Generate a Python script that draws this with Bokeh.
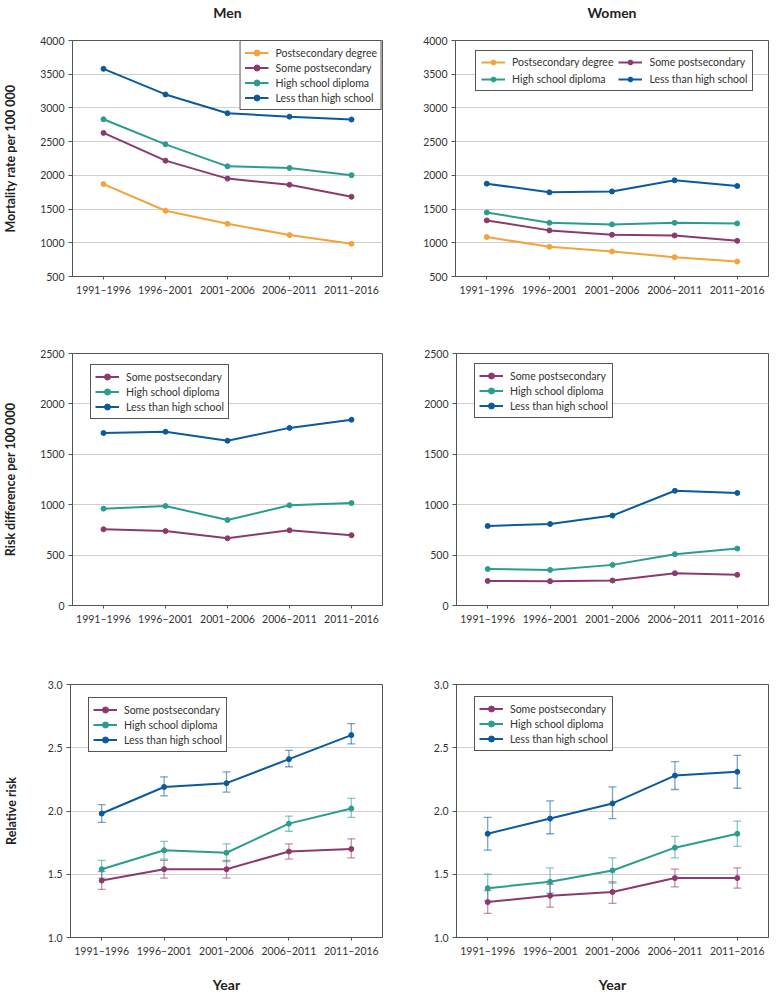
from bokeh.plotting import figure
from bokeh.models import (FactorRange, Range1d, FixedTicker, Whisker, ColumnDataSource,
                          Legend, LegendItem, TeeHead, NumeralTickFormatter, CategoricalAxis)
from bokeh.layouts import column, row
from bokeh.embed import file_html
from bokeh.resources import INLINE

# ---------------- data ----------------
periods = ["1991–1996", "1996–2001", "2001–2006", "2006–2011", "2011–2016"]

# Mortality rate per 100 000
men_mort_degree = [1870, 1475, 1282, 1114, 985]
men_mort_some = [2630, 2218, 1952, 1861, 1683]
men_mort_hs = [2832, 2460, 2134, 2109, 2003]
men_mort_less = [3580, 3200, 2921, 2871, 2828]

women_mort_degree = [1085, 940, 871, 786, 722]
women_mort_some = [1332, 1184, 1119, 1109, 1029]
women_mort_hs = [1450, 1297, 1273, 1297, 1287]
women_mort_less = [1877, 1748, 1762, 1926, 1842]

# Risk difference per 100 000
men_rd_some = [756, 738, 667, 746, 697]
men_rd_hs = [961, 987, 848, 994, 1016]
men_rd_less = [1711, 1724, 1635, 1762, 1843]

women_rd_some = [244, 241, 248, 320, 304]
women_rd_hs = [362, 353, 403, 509, 565]
women_rd_less = [789, 809, 892, 1138, 1117]

# Relative risk with 95% CI
men_rr_some = [1.45, 1.54, 1.54, 1.68, 1.70]
men_rr_some_lo = [1.38, 1.47, 1.47, 1.62, 1.63]
men_rr_some_hi = [1.52, 1.61, 1.61, 1.74, 1.78]
men_rr_hs = [1.54, 1.69, 1.67, 1.90, 2.02]
men_rr_hs_lo = [1.47, 1.62, 1.60, 1.84, 1.95]
men_rr_hs_hi = [1.61, 1.76, 1.74, 1.96, 2.10]
men_rr_less = [1.98, 2.19, 2.22, 2.41, 2.60]
men_rr_less_lo = [1.91, 2.12, 2.15, 2.35, 2.53]
men_rr_less_hi = [2.05, 2.27, 2.31, 2.48, 2.69]

women_rr_some = [1.28, 1.33, 1.36, 1.47, 1.47]
women_rr_some_lo = [1.19, 1.24, 1.27, 1.40, 1.39]
women_rr_some_hi = [1.37, 1.42, 1.44, 1.54, 1.55]
women_rr_hs = [1.39, 1.44, 1.53, 1.71, 1.82]
women_rr_hs_lo = [1.29, 1.35, 1.43, 1.63, 1.72]
women_rr_hs_hi = [1.50, 1.55, 1.63, 1.80, 1.92]
women_rr_less = [1.82, 1.94, 2.06, 2.28, 2.31]
women_rr_less_lo = [1.69, 1.82, 1.94, 2.17, 2.18]
women_rr_less_hi = [1.95, 2.08, 2.19, 2.39, 2.44]

mort_ticks = [500, 1000, 1500, 2000, 2500, 3000, 3500, 4000]
rd_ticks = [0, 500, 1000, 1500, 2000, 2500]
rr_ticks = [1.0, 1.5, 2.0, 2.5, 3.0]

# ---------------- styles ----------------
COLORS = {
    "Postsecondary degree": "#F2A33C",
    "Some postsecondary": "#8C3A6E",
    "High school diploma": "#2A9D8F",
    "Less than high school": "#0B5A9E",
}
FONT = "Lato"
TXT = "#333333"
FRAME = "#555555"


def make_panel(width, height, yr, ticks, series, ylabel=None, title=None, xlabel=None,
               mb_left=70, mb_right=6, mb_top=33, mb_bottom=35, legend_cfg=None,
               rr=False, ylabel_standoff=19):
    p = figure(width=width, height=height, x_range=FactorRange(factors=periods),
               y_range=Range1d(yr[0], yr[1]), output_backend="svg", toolbar_location=None,
               min_border_left=mb_left, min_border_right=mb_right,
               min_border_top=mb_top, min_border_bottom=mb_bottom)
    p.outline_line_color = FRAME
    p.outline_line_width = 1
    p.outline_line_alpha = 1
    p.background_fill_color = "white"
    p.border_fill_color = "white"
    p.xgrid.visible = False
    p.ygrid.grid_line_color = "#cfcfcf"
    p.ygrid.grid_line_width = 1
    p.yaxis.ticker = FixedTicker(ticks=ticks)
    if rr:
        p.yaxis.formatter = NumeralTickFormatter(format="0.0")
    for ax in (p.xaxis[0], p.yaxis[0]):
        ax.axis_line_color = FRAME
        ax.major_tick_line_color = FRAME
        ax.major_tick_in = 0
        ax.minor_tick_line_color = None
        ax.major_label_text_font = FONT
        ax.major_label_text_font_size = "10.5px"
        ax.major_label_text_color = TXT
        ax.major_label_standoff = 4
    p.yaxis.major_tick_out = 4
    p.xaxis.major_tick_out = 3
    if ylabel:
        p.yaxis.axis_label = ylabel
        p.yaxis.axis_label_text_font = FONT
        p.yaxis.axis_label_text_font_style = "bold"
        p.yaxis.axis_label_text_font_size = "12.5px"
        p.yaxis.axis_label_text_color = "#222222"
        p.yaxis.axis_label_standoff = ylabel_standoff
    if xlabel:
        p.xaxis.axis_label = xlabel
        p.xaxis.axis_label_text_font = FONT
        p.xaxis.axis_label_text_font_style = "bold"
        p.xaxis.axis_label_text_font_size = "14px"
        p.xaxis.axis_label_text_color = "#222222"
        p.xaxis.axis_label_standoff = 16
    if title:
        # panel title drawn as the label of a tick-less axis above the frame
        tax = CategoricalAxis(axis_label=title, ticker=FixedTicker(ticks=[]),
                              axis_line_color=None, major_tick_line_color=None,
                              minor_tick_line_color=None, major_label_standoff=0,
                              major_tick_out=0, major_tick_in=0,
                              axis_label_text_font=FONT, axis_label_text_font_style="bold",
                              axis_label_text_font_size="14px", axis_label_text_color="#222222",
                              axis_label_standoff=20)
        p.add_layout(tax, "above")

    items = {}
    # whiskers first (under lines)
    for s in series:
        name = s[0]
        if len(s) > 2:
            src = ColumnDataSource(dict(x=periods, lo=s[2], hi=s[3]))
            c = COLORS[name]
            w = Whisker(base="x", lower="lo", upper="hi", source=src,
                        line_color=c, line_alpha=0.55, line_width=1.3,
                        upper_head=TeeHead(size=8, line_color=c, line_alpha=0.55, line_width=1.3),
                        lower_head=TeeHead(size=8, line_color=c, line_alpha=0.55, line_width=1.3))
            p.add_layout(w)
    for s in series:
        name, vals = s[0], s[1]
        c = COLORS[name]
        src = ColumnDataSource(dict(x=periods, y=vals))
        lr = p.line("x", "y", source=src, line_color=c, line_width=2)
        sr = p.scatter("x", "y", source=src, size=5, color=c, marker="circle")
        items[name] = LegendItem(label=name, renderers=[lr, sr])

    cfg = legend_cfg or {}
    order = cfg.get("order", [s[0] for s in series])
    leg = Legend(items=[items[n] for n in order], location=cfg.get("location", "top_left"))
    leg.margin = 0
    leg.border_line_color = FRAME
    leg.border_line_width = 1
    leg.border_line_alpha = 1
    leg.background_fill_alpha = 1
    leg.padding = 4
    leg.spacing = 0
    leg.glyph_height = 15
    leg.label_height = 15
    leg.glyph_width = 24
    leg.label_standoff = 7
    leg.label_text_font = FONT
    leg.label_text_font_size = "10.5px"
    leg.label_text_color = TXT
    if "ncols" in cfg:
        leg.ncols = cfg["ncols"]
        leg.glyph_height = 12
        leg.label_height = 12
        leg.spacing = 5
        leg.padding = 5
    p.add_layout(leg)
    return p


LW, RW = 388, 388

p1 = make_panel(LW, 320, (500, 4000), mort_ticks,
                [("Postsecondary degree", men_mort_degree), ("Some postsecondary", men_mort_some),
                 ("High school diploma", men_mort_hs), ("Less than high school", men_mort_less)],
                ylabel="Mortality rate per 100 000", title="Men", mb_top=40, mb_bottom=44,
                legend_cfg=dict(location="top_right"))
p2 = make_panel(RW, 320, (500, 4000), mort_ticks,
                [("Postsecondary degree", women_mort_degree), ("Some postsecondary", women_mort_some),
                 ("High school diploma", women_mort_hs), ("Less than high school", women_mort_less)],
                title="Women", mb_left=67, mb_right=8, mb_top=40, mb_bottom=44,
                legend_cfg=dict(location=(20, 185), ncols=2,
                                order=["Postsecondary degree", "High school diploma",
                                       "Some postsecondary", "Less than high school"]))

p3 = make_panel(LW, 320, (0, 2500), rd_ticks,
                [("Some postsecondary", men_rd_some), ("High school diploma", men_rd_hs),
                 ("Less than high school", men_rd_less)],
                ylabel="Risk difference per 100 000", mb_top=33, mb_bottom=35,
                legend_cfg=dict(location=(18, 186)))
p4 = make_panel(RW, 320, (0, 2500), rd_ticks,
                [("Some postsecondary", women_rd_some), ("High school diploma", women_rd_hs),
                 ("Less than high school", women_rd_less)],
                mb_left=68, mb_right=8, mb_top=33, mb_bottom=35,
                legend_cfg=dict(location=(18, 187)))

p5 = make_panel(LW, 355, (1.0, 3.0), rr_ticks,
                [("Some postsecondary", men_rr_some, men_rr_some_lo, men_rr_some_hi),
                 ("High school diploma", men_rr_hs, men_rr_hs_lo, men_rr_hs_hi),
                 ("Less than high school", men_rr_less, men_rr_less_lo, men_rr_less_hi)],
                ylabel="Relative risk", xlabel="Year", mb_top=44, mb_bottom=58, rr=True,
                ylabel_standoff=26, legend_cfg=dict(location=(18, 185)))
p6 = make_panel(RW, 355, (1.0, 3.0), rr_ticks,
                [("Some postsecondary", women_rr_some, women_rr_some_lo, women_rr_some_hi),
                 ("High school diploma", women_rr_hs, women_rr_hs_lo, women_rr_hs_hi),
                 ("Less than high school", women_rr_less, women_rr_less_lo, women_rr_less_hi)],
                xlabel="Year", mb_left=68, mb_right=8, mb_top=44, mb_bottom=58, rr=True,
                legend_cfg=dict(location=(18, 186)))

layout = column(row(p1, p2), row(p3, p4), row(p5, p6))

open("out.html", "w").write(file_html(layout, INLINE))
